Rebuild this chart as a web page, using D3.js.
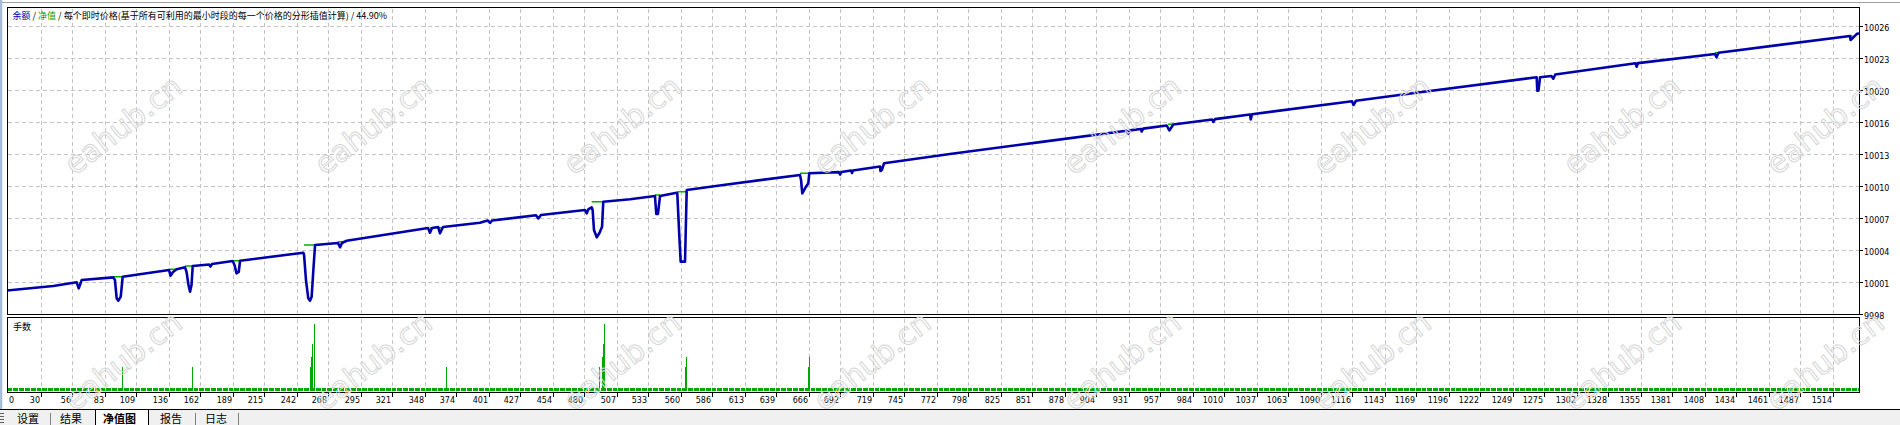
<!DOCTYPE html>
<html><head><meta charset="utf-8">
<script src="https://cdn.jsdelivr.net/npm/d3@7"></script>
<style>
html,body{margin:0;padding:0;background:#fff;overflow:hidden;}
svg{display:block;}
</style></head><body>
<svg id="c" width="1900" height="425"></svg>
<script>
// ---------------- data ----------------
const xTickLabels = ["30","56","83","109","136","162","189","215","242","268","295","321","348","374","401","427","454","480","507","533","560","586","613","639","666","692","719","745","772","798","825","851","878","904","931","957","984","1010","1037","1063","1090","1116","1143","1169","1196","1222","1249","1275","1302","1328","1355","1381","1408","1434","1461","1487","1514"];
const yTickValues = [9998.35,10001.45,10004.55,10007.65,10010.75,10013.85,10016.95,10020.05,10023.15,10026.25];
const yTickLabels = ["9998","10001","10004","10007","10010","10013","10016","10020","10023","10026"];

// blue line (余额) : [trade, value]
const balance = [
 [2,10000.62],[40.3,10001.06],[59.7,10001.42],[61.4,10000.84],[63.9,10001.64],
 [90.0,10001.90],[91.4,10001.64],[92.8,9999.87],[94.2,9999.64],[96.2,10000.03],[97.8,10001.96],
 [136.2,10002.61],[137.4,10002.06],[139.5,10002.42],[142.5,10002.68],
 [149.4,10002.87],[150.7,10002.42],[152.3,10001.16],[153.6,10000.51],[154.8,10001.16],[155.8,10003.00],
 [169.3,10003.15],[170.5,10002.95],[171.8,10003.19],
 [188.9,10003.48],[190.4,10003.10],[192.1,10002.29],[193.9,10002.42],[195.0,10003.51],
 [247.4,10004.29],[248.0,10004.07],[249.6,10001.64],[251.5,9999.87],[252.9,9999.64],[254.3,10000.03],[255.7,10002.61],[257.1,10005.03],
 [276.1,10005.23],[277.8,10004.81],[279.4,10005.23],[283.3,10005.45],
 [350.7,10006.68],[352.3,10006.23],[354.0,10006.68],[359.0,10006.78],[360.6,10006.17],[363.1,10006.78],
 [393.7,10007.19],[400.0,10007.41],[402.0,10007.17],[403.7,10007.41],
 [440.1,10007.92],[442.0,10007.60],[444.2,10007.94],
 [480.7,10008.42],[482.1,10008.10],[483.6,10008.52],[486.2,10008.69],
 [487.0,10008.42],[488.1,10006.49],[490.4,10005.78],[492.5,10006.17],[494.8,10006.81],[495.8,10009.23],
 [518.0,10009.46],[538.6,10009.78],[539.7,10008.04],[541.1,10008.04],[542.8,10009.78],
 [556.6,10010.10],[557.1,10010.04],[558.8,10005.84],[559.9,10003.42],[563.5,10003.42],[564.9,10010.36],
 [595.2,10010.85],[658.7,10011.82],[659.6,10011.33],[660.6,10010.04],[662.9,10010.53],[665.6,10011.01],[666.4,10011.98],
 [691.0,10012.09],[691.9,10011.86],[693.1,10012.11],[701.0,10012.25],[701.8,10012.01],[702.6,10012.25],
 [725.0,10012.64],[725.4,10012.20],[726.5,10012.30],[728.3,10012.95],
 [782.9,10013.85],[857.5,10015.00],
 [929.1,10016.10],[930.6,10015.82],[932.0,10016.14],[941.0,10016.28],[941.7,10016.03],[943.0,10016.31],
 [962.4,10016.61],[964.6,10016.13],[967.9,10016.70],
 [1000.0,10017.19],[1001.0,10016.95],[1002.4,10017.23],
 [1031.4,10017.67],[1032.0,10017.20],[1033.1,10017.70],
 [1115.9,10018.96],[1117.1,10018.60],[1119.2,10019.01],
 [1172.2,10019.83],[1268.8,10021.28],[1269.3,10019.98],[1270.3,10019.98],[1271.6,10021.28],
 [1281.0,10021.41],[1282.6,10021.14],[1284.2,10021.55],
 [1350.7,10022.64],[1351.6,10022.31],[1352.7,10022.65],
 [1416.5,10023.54],[1417.7,10023.22],[1419.4,10023.66],
 [1528.3,10025.28],[1528.8,10024.89],[1529.8,10025.00],[1533.8,10025.47],[1535.7,10025.54]
];
// green (净值) flat segments: [fromTrade, toTrade, value]
const equityFlats = [
 [90.0,97.8,10001.96],[137.0,142.5,10002.68],[149.4,155.8,10003.00],[188.9,195.0,10003.51],
 [248.0,257.1,10005.03],[276.1,281.9,10005.35],[352.3,363.1,10006.71],[486.2,495.8,10009.23],
 [538.6,542.8,10009.88],[557.1,564.9,10010.20],[658.7,666.4,10011.98],[963.5,967.9,10016.73],
 [1416.5,1419.4,10023.66],[1527.8,1530.5,10025.28]
];
// 手数 (lots) per trade, run-length encoded: [lots, numberOfTrades], starting at trade 2
const lotStart = 2;
const lotRuns = [
 [0.01,96],[0.09,1],[0.01,57],[0.09,1],[0.01,96],
 [0.09,1],[0.125,1],[0.175,1],[0.01,1],[0.25,1],
 [0.01,108],[0.09,1],[0.01,126],
 [0.09,1],[0.01,1],[0.125,1],[0.175,1],[0.25,1],
 [0.01,66],[0.09,1],[0.125,1],[0.01,100],[0.09,1],[0.125,1],[0.01,868]
];
const titleParts = [["余额","#0000aa"],[" / ","#000"],["净值","#00a000"],[" / 每个即时价格(基于所有可利用的最小时段的每一个价格的分形插值计算) / 44.90%","#000"]];
const tabs = ["设置","结果","净值图","报告","日志"];

// ---------------- drawing ----------------
const svg = d3.select("#c");
const W = 1900, H = 425;
const L = 7.5, R = 1859.5, T = 7.5, B = 314.5, LT = 317.5, LB = 392.5;
const x = d3.scaleLinear().domain([0,1535]).range([4.6,1858.1]);
const y = d3.scaleLinear().domain([9998.35,10026.25]).range([314,26]);
const ly = d3.scaleLinear().domain([0,0.25]).range([391,323.5]);

const lots = [];
let t = lotStart;
lotRuns.forEach(([v,n]) => { for (let k=0;k<n;k++) lots.push([t++, v]); });

svg.append("rect").attr("width",W).attr("height",H).attr("fill","#fff");
svg.append("line").attr("x1",0).attr("x2",W).attr("y1",2.5).attr("y2",2.5).attr("stroke","#a0a0a0").attr("shape-rendering","crispEdges");
svg.append("rect").attr("x",0).attr("y",0).attr("width",2.3).attr("height",409).attr("fill","#a9bcd6");

const defs = svg.append("defs");
defs.append("clipPath").attr("id","cm").append("rect").attr("x",L).attr("y",T).attr("width",R-L).attr("height",B-T);
defs.append("clipPath").attr("id","cl").append("rect").attr("x",L).attr("y",LT).attr("width",R-L).attr("height",LB-LT);

// grid
const grid = svg.append("g").attr("stroke","#c4c4c4").attr("stroke-dasharray","4,3").attr("shape-rendering","crispEdges");
xTickLabels.forEach(s => {
  const gx = Math.round(x(+s)) + 0.5;
  grid.append("line").attr("x1",gx).attr("x2",gx).attr("y1",T+1).attr("y2",B);
  grid.append("line").attr("x1",gx).attr("x2",gx).attr("y1",LT+1).attr("y2",LB);
});
yTickValues.slice(1).forEach(v => {
  const gy = Math.round(y(v)) + 0.5;
  grid.append("line").attr("x1",L).attr("x2",R).attr("y1",gy).attr("y2",gy);
});

// lots bars
const lg = svg.append("g").attr("clip-path","url(#cl)").attr("shape-rendering","crispEdges");
lg.selectAll("rect").data(lots).join("rect")
  .attr("x", d => Math.floor(x(d[0])))
  .attr("y", d => ly(d[1]))
  .attr("width", 1)
  .attr("height", d => ly(0) - ly(d[1]))
  .attr("fill", "#00a800");

// main lines
const mg = svg.append("g").attr("clip-path","url(#cm)");
mg.selectAll("line.eq").data(equityFlats).join("line").attr("class","eq")
  .attr("x1", d => x(d[0])).attr("x2", d => x(d[1]))
  .attr("y1", d => y(d[2])).attr("y2", d => y(d[2]))
  .attr("stroke","#00b000").attr("stroke-width",1.4);
mg.append("path").datum(balance)
  .attr("d", d3.line().x(d => x(d[0])).y(d => y(d[1])))
  .attr("fill","none").attr("stroke","#0000aa").attr("stroke-width",2.6).attr("stroke-linejoin","round");

// borders
const bd = svg.append("g").attr("fill","none").attr("stroke","#000").attr("shape-rendering","crispEdges");
bd.append("rect").attr("x",L).attr("y",T).attr("width",R-L).attr("height",B-T);
bd.append("rect").attr("x",L).attr("y",LT).attr("width",R-L).attr("height",LB-LT);

// y axis
const ya = svg.append("g").attr("font-family","'DejaVu Sans', Verdana, sans-serif").attr("font-size","8px").attr("fill","#000");
yTickValues.forEach((v,i) => {
  const gy = Math.round(y(v)) + 0.5;
  svg.append("line").attr("x1",R).attr("x2",R+3).attr("y1",gy).attr("y2",gy).attr("stroke","#000").attr("shape-rendering","crispEdges");
  ya.append("text").attr("x",1864).attr("y",gy+4.5).text(yTickLabels[i]);
});
// x axis
const xa = svg.append("g").attr("font-family","'DejaVu Sans', Verdana, sans-serif").attr("font-size","8px").attr("fill","#000");
xa.append("text").attr("x",9).attr("y",402.5).text("0");
xTickLabels.forEach(s => {
  const gx = Math.round(x(+s)) + 0.5;
  svg.append("line").attr("x1",gx).attr("x2",gx).attr("y1",LB).attr("y2",LB+4).attr("stroke","#000").attr("shape-rendering","crispEdges");
  xa.append("text").attr("x",gx-1.5).attr("y",402.5).attr("text-anchor","end").text(s);
});

// title
const tt = svg.append("text").attr("x",12.5).attr("y",19).attr("font-family","'Noto Sans CJK SC', sans-serif").attr("font-size","9px");
titleParts.forEach(([s,c]) => tt.append("tspan").attr("fill",c).text(s));
svg.append("text").attr("x",13).attr("y",330).attr("font-family","'Noto Sans CJK SC', sans-serif").attr("font-size","9px").text("手数");

// bottom tab strip
svg.append("rect").attr("x",0).attr("y",409.5).attr("width",W).attr("height",16).attr("fill","#f0f0f0");
svg.append("line").attr("x1",0).attr("x2",W).attr("y1",409.5).attr("y2",409.5).attr("stroke","#000").attr("shape-rendering","crispEdges");
svg.append("rect").attr("x",95.5).attr("y",409.5).attr("width",53).attr("height",20).attr("fill","#fff").attr("stroke","#000").attr("shape-rendering","crispEdges");
const tabX = [17,60,103,160,205];
const sepX = [50,195,238];
const tg = svg.append("g").attr("font-family","'Noto Sans CJK SC', sans-serif").attr("font-size","11px").attr("fill","#000");
tabs.forEach((s,i) => tg.append("text").attr("x",tabX[i]).attr("y",422.5).attr("font-weight", i===2 ? "bold" : "normal").text(s));
sepX.forEach(sx => svg.append("line").attr("x1",sx+0.5).attr("x2",sx+0.5).attr("y1",413).attr("y2",425).attr("stroke","#808080").attr("shape-rendering","crispEdges"));
svg.append("g").selectAll("line").data([413,416,419,422]).join("line")
  .attr("x1",0).attr("x2",4).attr("y1",d=>d+0.5).attr("y2",d=>d+0.5).attr("stroke","#606060").attr("shape-rendering","crispEdges");

// watermarks
const wm = svg.append("g").attr("font-family","'DejaVu Sans', sans-serif").attr("font-size","30px")
  .attr("fill","none").attr("stroke","#d6d6d6").attr("stroke-width",1);
const wmCols = [123,373,622,872,1122,1372,1622,1825];
const wmRows = [125,361];
wmRows.forEach(cy => wmCols.forEach(cx => {
  wm.append("text").attr("transform",`translate(${cx},${cy}) rotate(-38)`)
    .attr("text-anchor","middle").attr("dominant-baseline","central").text("eahub.cn");
}));
</script>
</body></html>
